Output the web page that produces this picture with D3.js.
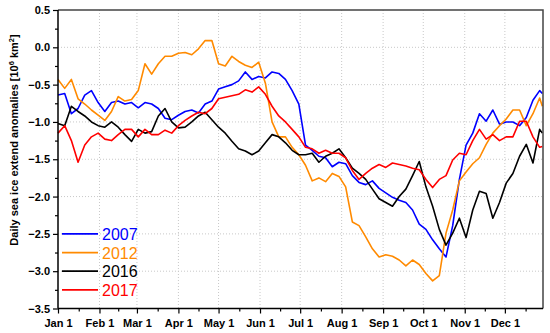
<!DOCTYPE html>
<html>
<head>
<meta charset="utf-8">
<script src="https://cdn.jsdelivr.net/npm/d3@7"></script>
<style>
  body { margin: 0; background: #fff; }
  svg { display: block; font-family: "Liberation Sans", Arial, sans-serif; }
</style>
</head>
<body>
<svg id="chart" width="550" height="333"></svg>
<script>
// day of year for every sample
var days = [0,5,10,15,20,25,30,35,40,45,50,55,60,65,70,75,80,85,90,95,100,105,110,115,120,125,130,135,140,145,150,155,160,165,170,175,180,185,190,195,200,205,210,215,220,225,230,235,240,245,250,255,260,265,270,275,280,285,290,295,300,305,310,315,320,325,330,335,340,345,350,355,360,362];

var v2007 = [-0.64,-0.62,-0.89,-0.82,-0.64,-0.58,-0.74,-0.86,-0.74,-0.72,-0.76,-0.74,-0.81,-0.74,-0.76,-0.82,-0.95,-0.97,-0.91,-0.86,-0.84,-0.88,-0.76,-0.72,-0.56,-0.53,-0.50,-0.45,-0.33,-0.43,-0.39,-0.41,-0.33,-0.35,-0.43,-0.58,-0.76,-1.31,-1.38,-1.46,-1.48,-1.60,-1.54,-1.56,-1.72,-1.81,-1.84,-1.79,-1.89,-1.95,-2.01,-2.05,-2.08,-2.18,-2.37,-2.44,-2.58,-2.70,-2.81,-2.39,-1.77,-1.31,-1.15,-0.89,-0.99,-0.84,-1.03,-1.00,-1.00,-1.05,-0.94,-0.71,-0.58,-0.62];
var v2012 = [-0.43,-0.55,-0.43,-0.69,-0.76,-0.84,-0.91,-0.98,-0.86,-0.66,-0.72,-0.70,-0.58,-0.22,-0.36,-0.22,-0.12,-0.12,-0.08,-0.07,-0.10,-0.02,0.09,0.09,-0.22,-0.25,-0.12,-0.19,-0.24,-0.27,-0.20,-0.48,-1.00,-1.20,-1.20,-1.34,-1.44,-1.58,-1.79,-1.75,-1.80,-1.69,-1.73,-1.87,-2.34,-2.39,-2.54,-2.70,-2.81,-2.78,-2.80,-2.85,-2.93,-2.85,-2.91,-3.03,-3.13,-3.06,-2.49,-2.18,-1.79,-1.67,-1.56,-1.48,-1.30,-1.15,-1.05,-0.96,-0.84,-0.84,-1.05,-0.89,-0.68,-0.79];
var v2016 = [-1.02,-1.05,-0.79,-0.86,-0.92,-1.00,-1.05,-1.07,-1.00,-1.07,-1.17,-1.26,-1.10,-1.15,-1.13,-0.92,-0.82,-1.00,-1.08,-1.07,-1.00,-0.92,-0.87,-0.97,-1.07,-1.15,-1.26,-1.36,-1.39,-1.44,-1.39,-1.28,-1.17,-1.20,-1.28,-1.38,-1.44,-1.44,-1.42,-1.54,-1.46,-1.42,-1.36,-1.48,-1.62,-1.69,-1.77,-1.90,-2.03,-2.08,-2.13,-2.00,-1.90,-1.72,-1.53,-1.87,-2.13,-2.44,-2.65,-2.49,-2.29,-2.55,-2.18,-1.93,-1.96,-2.29,-2.08,-1.82,-1.69,-1.46,-1.30,-1.55,-1.10,-1.15];
var v2017 = [-1.15,-1.05,-1.25,-1.54,-1.31,-1.20,-1.15,-1.23,-1.25,-1.17,-1.10,-1.10,-1.20,-1.10,-1.17,-1.17,-1.11,-1.15,-1.05,-0.98,-0.92,-0.87,-0.89,-0.82,-0.69,-0.67,-0.65,-0.63,-0.57,-0.60,-0.53,-0.63,-0.79,-0.92,-1.00,-1.10,-1.20,-1.34,-1.36,-1.42,-1.38,-1.42,-1.42,-1.48,-1.65,-1.77,-1.69,-1.62,-1.57,-1.61,-1.55,-1.57,-1.59,-1.62,-1.64,-1.77,-1.88,-1.77,-1.72,-1.51,-1.42,-1.44,-1.25,-1.10,-1.23,-1.17,-1.25,-1.20,-1.20,-0.99,-0.99,-1.20,-1.34,-1.33];

var years = ["2007", "2012", "2016", "2017"];
var colors = ["#0000ff", "#ff8a00", "#000000", "#ff0000"];
var series = [v2007, v2012, v2016, v2017];

var monthStarts = [0, 31, 59, 90, 120, 151, 181, 212, 243, 273, 304, 334];
var monthLabels = ["Jan 1", "Feb 1", "Mar 1", "Apr 1", "May 1", "Jun 1", "Jul 1", "Aug 1", "Sep 1", "Oct 1", "Nov 1", "Dec 1"];
var yTicks = [0.5, 0, -0.5, -1, -1.5, -2, -2.5, -3, -3.5];
var yMinor = [0.25, -0.25, -0.75, -1.25, -1.75, -2.25, -2.75, -3.25];

!function() {

  var pLeft = 58, pRight = 543, pTop = 10, pBottom = 308.5;

  var svg = d3.select("#chart");

  var x = d3.scaleLinear().domain([0, 362.5]).range([pLeft, pRight]);
  var y = d3.scaleLinear().domain([-3.5, 0.5]).range([pBottom, pTop]);

  // dotted grid
  var grid = svg.append("g").attr("stroke", "#c8c8c8").attr("stroke-width", 1).attr("stroke-dasharray", "1,2");
  yTicks.slice(1, -1).forEach(function(t) {
    grid.append("line").attr("x1", pLeft).attr("x2", pRight).attr("y1", y(t)).attr("y2", y(t));
  });
  monthStarts.slice(1).forEach(function(d) {
    grid.append("line").attr("x1", x(d)).attr("x2", x(d)).attr("y1", pTop).attr("y2", pBottom);
  });

  // series lines
  var line = d3.line()
    .x(function(d, i) { return x(days[i]); })
    .y(function(d) { return y(d); });

  series.forEach(function(s, i) {
    svg.append("path")
      .datum(s)
      .attr("fill", "none")
      .attr("stroke", colors[i])
      .attr("stroke-width", 1.6)
      .attr("stroke-linejoin", "round")
      .attr("d", line);
  });

  // frame on top and right
  svg.append("path")
    .attr("d", "M" + pLeft + "," + pTop + "H" + pRight + "V" + pBottom)
    .attr("fill", "none").attr("stroke", "#444").attr("stroke-width", 1.5);

  // x axis
  var minorDays = monthStarts.map(function(d, i) {
    var next = i < monthStarts.length - 1 ? monthStarts[i + 1] : 365;
    return (d + next) / 2;
  });

  var xAxis = svg.append("g")
    .attr("transform", "translate(0," + pBottom + ")")
    .call(d3.axisBottom(x).tickValues(monthStarts).tickSize(5).tickSizeOuter(0)
      .tickFormat(function(d, i) { return monthLabels[i]; }));
  xAxis.select(".domain").attr("stroke", "#000").attr("stroke-width", 1.5)
    .attr("d", "M" + pLeft + ",0H" + pRight);
  xAxis.selectAll(".tick line").attr("stroke", "#000").attr("stroke-width", 1.2);
  xAxis.selectAll(".tick text").attr("y", 11).attr("font-size", 11).attr("font-weight", "bold")
    .attr("font-family", "Liberation Sans, Arial, sans-serif").attr("fill", "#000");

  var xMinor = svg.append("g")
    .attr("transform", "translate(0," + pBottom + ")")
    .call(d3.axisBottom(x).tickValues(minorDays).tickSize(3).tickFormat(""));
  xMinor.select(".domain").remove();
  xMinor.selectAll(".tick line").attr("stroke", "#000").attr("stroke-width", 1.2);

  // y axis
  var yAxis = svg.append("g")
    .attr("transform", "translate(" + pLeft + ",0)")
    .call(d3.axisLeft(y).tickValues(yTicks).tickSize(5).tickSizeOuter(0)
      .tickFormat(function(d) { return d3.format(".1f")(d).replace("-", "\u2212"); }));
  yAxis.select(".domain").attr("stroke", "#000").attr("stroke-width", 1.5)
    .attr("d", "M0," + pTop + "V" + pBottom);
  yAxis.selectAll(".tick line").attr("stroke", "#000").attr("stroke-width", 1.2);
  yAxis.selectAll(".tick text").attr("x", -8).attr("font-size", 11).attr("font-weight", "bold")
    .attr("font-family", "Liberation Sans, Arial, sans-serif").attr("fill", "#000");

  var yMinorAxis = svg.append("g")
    .attr("transform", "translate(" + pLeft + ",0)")
    .call(d3.axisLeft(y).tickValues(yMinor).tickSize(3).tickFormat(""));
  yMinorAxis.select(".domain").remove();
  yMinorAxis.selectAll(".tick line").attr("stroke", "#000").attr("stroke-width", 1.2);

  // y title
  var title = svg.append("text")
    .attr("transform", "translate(18,140) rotate(-90)")
    .attr("text-anchor", "middle")
    .attr("font-size", 11)
    .attr("font-weight", "bold")
    .attr("fill", "#000");
  title.append("tspan").text("Daily sea ice extend anomalies [10");
  title.append("tspan").attr("dy", -4).attr("font-size", 7.5).text("6");
  title.append("tspan").attr("dy", 4).text(" km");
  title.append("tspan").attr("dy", -4).attr("font-size", 7.5).text("2");
  title.append("tspan").attr("dy", 4).text("]");

  // legend, one row per year aligned with the y grid
  var legendY = [-2.5, -2.75, -3, -3.25];
  years.forEach(function(yr, i) {
    var ly = y(legendY[i]);
    svg.append("line")
      .attr("x1", 62).attr("x2", 98).attr("y1", ly).attr("y2", ly)
      .attr("stroke", colors[i]).attr("stroke-width", 1.7);
    svg.append("text")
      .attr("x", 102).attr("y", ly + 6)
      .attr("font-size", 16)
      .attr("fill", colors[i])
      .text(yr);
  });

}();
</script>
</body>
</html>
